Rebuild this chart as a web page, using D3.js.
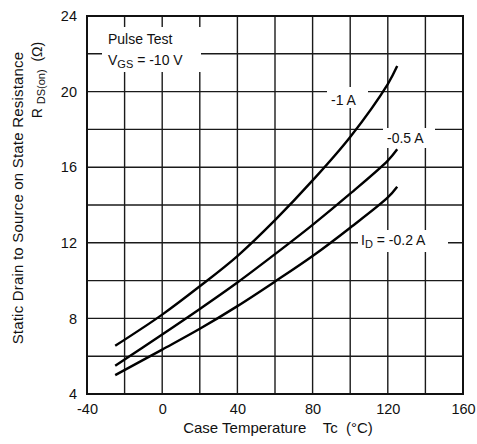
<!DOCTYPE html>
<html><head><meta charset="utf-8">
<script src="https://cdn.jsdelivr.net/npm/d3@7"></script>
<style>
html,body{margin:0;padding:0;background:#fff;}
svg text{font-family:"Liberation Sans",Arial,sans-serif;fill:#111;white-space:pre;}
</style></head>
<body>
<svg id="chart" width="477" height="444"></svg>
<script>
// ---- data ----
const xTicks = [-40, 0, 40, 80, 120, 160];
const yTicks = [4, 8, 12, 16, 20, 24];
const xGrid = [-40, -20, 0, 20, 40, 60, 80, 100, 120, 140, 160];
const yGrid = [4, 6, 8, 10, 12, 14, 16, 18, 20, 22, 24];

const temps1 = [-25, 0, 20, 40, 60, 80, 100, 120, 125];
const rds1A  = [6.55, 8.2, 9.7, 11.3, 13.2, 15.3, 17.6, 20.4, 21.35];

const temps05 = [-25, 0, 20, 40, 60, 80, 100, 120, 125];
const rds05A  = [5.5, 7.15, 8.5, 9.9, 11.4, 12.95, 14.6, 16.35, 16.95];

const temps02 = [-25, 0, 20, 40, 60, 80, 100, 120, 125];
const rds02A  = [5.0, 6.35, 7.45, 8.65, 9.95, 11.3, 12.8, 14.4, 14.97];

const curveLabels = ["-1 A", "-0.5 A", "I_D = -0.2 A"];

// ---- layout ----
const svg = d3.select("#chart");
const L = 87, T = 16, W = 376, H = 378;
const x = d3.scaleLinear().domain([-40, 160]).range([L, L + W]);
const y = d3.scaleLinear().domain([4, 24]).range([T + H, T]);

const g = svg.append("g");

// grid
g.selectAll("line.vx").data(xGrid).enter().append("line")
  .attr("x1", d => x(d)).attr("x2", d => x(d))
  .attr("y1", T).attr("y2", T + H)
  .attr("stroke", "#1a1a1a").attr("stroke-width", 1.4);
g.selectAll("line.hy").data(yGrid).enter().append("line")
  .attr("y1", d => y(d)).attr("y2", d => y(d))
  .attr("x1", L).attr("x2", L + W)
  .attr("stroke", "#1a1a1a").attr("stroke-width", 1.4);

// label backgrounds (white boxes interrupting the grid)
const boxes = [
  [102, 27, 99, 45],
  [327, 87, 41, 21],
  [383, 128, 52, 20],
  [358, 230, 90, 22]
];
g.selectAll("rect.bg").data(boxes).enter().append("rect")
  .attr("x", d => d[0]).attr("y", d => d[1]).attr("width", d => d[2]).attr("height", d => d[3])
  .attr("fill", "#fff");

// frame
g.append("rect").attr("x", L).attr("y", T).attr("width", W).attr("height", H)
  .attr("fill", "none").attr("stroke", "#111").attr("stroke-width", 2);

// axes tick labels using d3 axes
const xAxis = d3.axisBottom(x).tickValues(xTicks).tickSize(0).tickPadding(10).tickFormat(d => String(d));
const xa = svg.append("g").attr("transform", `translate(0,${T + H})`).call(xAxis);
xa.select(".domain").remove();
xa.selectAll("text").attr("font-size", 14.5).attr("font-family", "Liberation Sans, Arial, sans-serif").attr("fill", "#111");

const yAxis = d3.axisLeft(y).tickValues(yTicks).tickSize(0).tickPadding(10).tickFormat(d => String(d));
const ya = svg.append("g").attr("transform", `translate(${L},0)`).call(yAxis);
ya.select(".domain").remove();
ya.selectAll("text").attr("font-size", 14.5).attr("font-family", "Liberation Sans, Arial, sans-serif").attr("fill", "#111");

// curves
const line = d3.line().x(d => x(d[0])).y(d => y(d[1])).curve(d3.curveCatmullRom.alpha(0.5));
const series = [
  d3.zip(temps1, rds1A),
  d3.zip(temps05, rds05A),
  d3.zip(temps02, rds02A)
];
g.selectAll("path.c").data(series).enter().append("path")
  .attr("d", line).attr("fill", "none").attr("stroke", "#000").attr("stroke-width", 2.4);

// curve labels
svg.append("text").attr("x", 331).attr("y", 105).attr("font-size", 14).text(curveLabels[0]);
svg.append("text").attr("x", 387).attr("y", 143).attr("font-size", 14).text(curveLabels[1]);
const idl = svg.append("text").attr("x", 361).attr("y", 245).attr("font-size", 14);
idl.append("tspan").text("I");
idl.append("tspan").attr("font-size", 11).attr("dy", 3).text("D");
idl.append("tspan").attr("dy", -3).text(" = -0.2 A");

// pulse test box text
svg.append("text").attr("x", 108).attr("y", 44).attr("font-size", 14).text("Pulse Test");
const vg = svg.append("text").attr("x", 108).attr("y", 65).attr("font-size", 14);
vg.append("tspan").text("V");
vg.append("tspan").attr("font-size", 11).attr("dy", 3).text("GS");
vg.append("tspan").attr("dy", -3).text(" = -10 V");

// axis titles
const xt = svg.append("text").attr("x", 278).attr("y", 433).attr("font-size", 15).attr("text-anchor", "middle");
xt.text("Case Temperature    Tc  (°C)");

svg.append("text").attr("transform", "translate(23,198) rotate(-90)")
  .attr("font-size", 15).attr("text-anchor", "middle").attr("letter-spacing", 0.2)
  .text("Static Drain to Source on State Resistance");
const yt2 = svg.append("text").attr("transform", "translate(42,80) rotate(-90)")
  .attr("font-size", 14).attr("text-anchor", "middle");
yt2.append("tspan").text("R ");
yt2.append("tspan").attr("font-size", 11).attr("dy", 3).text("DS(on)");
yt2.append("tspan").attr("dy", -3).text("  (Ω)");
</script>
</body></html>
